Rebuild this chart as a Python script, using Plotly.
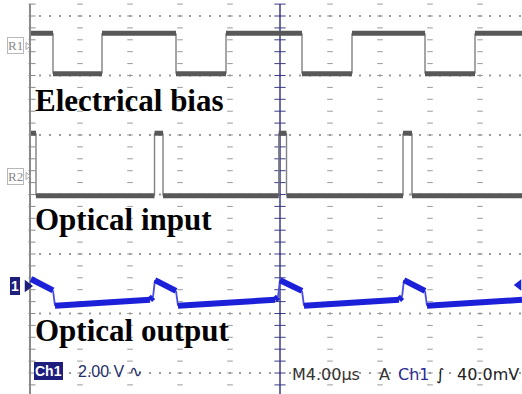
import numpy as np
import plotly.graph_objects as go

# ---------------- data (time in microseconds, 4 us/div; vertical in graticule divisions) -------------
trace_start_us = -19.92
trace_end_us = 19.36

# Electrical bias (R1): square wave, starts high
r1_edges_us = [-18.16, -14.24, -8.32, -4.32, 1.76, 5.76, 11.6, 15.6]
r1_high, r1_low = 2.71, 2.03

# Optical input (R2): short pulses
r2_pulse_start_us = [-20.2, -10.04, -0.10, 9.84]
r2_pulse_end_us = [-19.52, -9.36, 0.52, 10.56]
r2_base, r2_top = -0.02, 1.03

# Optical output (Ch1)
ch1_t_us = [-19.92, -18.16, -18.0, -10.4, -10.16, -10.0, -8.32, -8.16, -0.4, -0.16, 0.0,
            1.76, 1.92, 9.52, 9.76, 9.92, 11.6, 11.76, 19.36]
ch1_div = [-1.42, -1.61, -1.87, -1.77, -1.72, -1.44, -1.62, -1.87, -1.77, -1.72, -1.44,
           -1.62, -1.87, -1.77, -1.72, -1.44, -1.62, -1.87, -1.77]

grid_cols_us = [-16, -12, -8, -4, 4, 8, 12, 16]
grid_rows_div = [3, 2, 1, 0, -1, -2, -3]

# ---------------- helpers ----------------
def step_points(t0, t1, edges, lv_a, lv_b):
    xs, ys = [t0], [lv_a]
    cur, other = lv_a, lv_b
    for e in edges:
        xs += [e, e]
        ys += [cur, other]
        cur, other = other, cur
    xs.append(t1)
    ys.append(cur)
    return xs, ys

def split(xs, ys, thr_t=0.25, thr_y=0.1):
    fx, fy, ex, ey = [], [], [], []
    for i in range(len(xs) - 1):
        dx = xs[i + 1] - xs[i]
        dy = abs(ys[i + 1] - ys[i])
        if dx <= thr_t and dy > thr_y:
            ex += [xs[i], xs[i + 1], None]
            ey += [ys[i], ys[i + 1], None]
        else:
            fx += [xs[i], xs[i + 1], None]
            fy += [ys[i], ys[i + 1], None]
    return fx, fy, ex, ey

fig = go.Figure()

# ---------------- graticule ----------------
y_top, y_bot = 3.2, -3.4
col_y = np.round(np.arange(y_bot, y_top + 0.001, 0.2), 3)
gx, gy = [], []
for c in grid_cols_us:
    gx += [c] * len(col_y)
    gy += list(col_y)
fig.add_trace(go.Scatter(x=gx, y=gy, mode="markers", hoverinfo="skip",
                         marker=dict(symbol="line-ew", size=4, line=dict(width=1, color="#9a9a9a"))))
row_x = np.round(np.arange(-20, 20.01, 0.8), 3)
rx, ry = [], []
for r in grid_rows_div:
    rx += list(row_x)
    ry += [r] * len(row_x)
fig.add_trace(go.Scatter(x=rx, y=ry, mode="markers", hoverinfo="skip",
                         marker=dict(symbol="square", size=2, color="#9a9a9a", line=dict(width=0))))

# left edge with ticks
fig.add_trace(go.Scatter(x=[-20, -20], y=[y_top, -3.5], mode="lines", hoverinfo="skip",
                         line=dict(color="#8a8a8a", width=2)))
fig.add_trace(go.Scatter(x=[-19.84] * len(col_y), y=col_y, mode="markers", hoverinfo="skip",
                         marker=dict(symbol="line-ew", size=5, line=dict(width=1, color="#8a8a8a"))))
# centre line with ticks
fig.add_trace(go.Scatter(x=[0, 0], y=[y_top, -3.5], mode="lines", hoverinfo="skip",
                         line=dict(color="#3c3c86", width=1.5)))
fig.add_trace(go.Scatter(x=[0] * len(col_y), y=col_y, mode="markers", hoverinfo="skip",
                         marker=dict(symbol="line-ew", size=8, line=dict(width=1, color="#3c3c86"))))

# ---------------- traces ----------------
gray_thick = "#585858"
gray_thin = "#808080"

x1, y1 = step_points(trace_start_us, trace_end_us, r1_edges_us, r1_high, r1_low)
fx, fy, ex, ey = split(x1, y1)
fig.add_trace(go.Scatter(x=ex, y=ey, mode="lines", line=dict(color=gray_thin, width=1.4), hoverinfo="skip"))
fig.add_trace(go.Scatter(x=fx, y=fy, mode="lines", line=dict(color=gray_thick, width=5), hoverinfo="skip"))

r2_edges = []
for s, e in zip(r2_pulse_start_us, r2_pulse_end_us):
    r2_edges += [s, e]
start_high = r2_edges[0] < trace_start_us
edges_vis = [e for e in r2_edges if e > trace_start_us]
if start_high:
    x2, y2 = step_points(trace_start_us, trace_end_us, edges_vis, r2_top, r2_base)
else:
    x2, y2 = step_points(trace_start_us, trace_end_us, edges_vis, r2_base, r2_top)
fx, fy, ex, ey = split(x2, y2)
fig.add_trace(go.Scatter(x=ex, y=ey, mode="lines", line=dict(color=gray_thin, width=1.4), hoverinfo="skip"))
fig.add_trace(go.Scatter(x=fx, y=fy, mode="lines", line=dict(color=gray_thick, width=5), hoverinfo="skip"))

fx, fy, ex, ey = split(ch1_t_us, ch1_div)
fig.add_trace(go.Scatter(x=ex, y=ey, mode="lines", line=dict(color="#4a4ee0", width=1.8), hoverinfo="skip"))
fig.add_trace(go.Scatter(x=fx, y=fy, mode="lines", line=dict(color="#1c20d8", width=6), hoverinfo="skip"))

# markers: R1/R2 label arrows, ch1 ground marker arrow and trigger level marker
fig.add_trace(go.Scatter(x=[-20.2, -20.2], y=[2.496, 0.311], mode="markers", hoverinfo="skip",
                         marker=dict(symbol="triangle-right-open", size=6, color="#a8a8a8",
                                     line=dict(width=1, color="#a8a8a8"))))
fig.add_trace(go.Scatter(x=[-20.2], y=[-1.538], mode="markers", hoverinfo="skip",
                         marker=dict(symbol="triangle-right", size=11, color="#1e1e7c")))
fig.add_trace(go.Scatter(x=[19.1], y=[-1.52], mode="markers", hoverinfo="skip",
                         marker=dict(symbol="triangle-left", size=10, color="#1c20d8")))

# ---------------- text ----------------
ann = []
serif = "Liberation Serif"
for txt, yv in [("<b>Electrical bias</b>", 1.588), ("<b>Optical input</b>", -0.412), ("<b>Optical output</b>", -2.286)]:
    ann.append(dict(x=-19.6, y=yv, xref="x", yref="y", text=txt, showarrow=False, xanchor="left",
                    yanchor="middle", font=dict(family=serif, size=31, color="#000000"),
                    borderpad=0, borderwidth=0))
for txt, yv in [("R1", 2.496), ("R2", 0.311)]:
    ann.append(dict(x=-21.2, y=yv, xref="x", yref="y", text=txt, showarrow=False, xanchor="center",
                    yanchor="middle", font=dict(family=serif, size=13, color="#8a8a8a"),
                    bordercolor="#b8b8b8", borderwidth=1, borderpad=0))
ann.append(dict(x=-21.2, y=-1.538, xref="x", yref="y", text="<b>1</b>", showarrow=False,
                font=dict(family="Liberation Sans", size=14, color="white"),
                bgcolor="#1e1e7c", borderpad=1, borderwidth=0))
ann.append(dict(x=-18.56, y=-2.966, xref="x", yref="y", text="<b>Ch1</b>", showarrow=False,
                font=dict(family="Liberation Sans", size=14, color="white"),
                bgcolor="#1e1e7c", borderpad=1, borderwidth=0))
ann.append(dict(x=-16.16, y=-2.983, xref="x", yref="y", text="2.00 V ∿", showarrow=False, xanchor="left",
                font=dict(family="Liberation Sans", size=16, color="#23306a"), borderpad=0, borderwidth=0))
for txt, xv, col in [("M4.00µs", 0.96, "#333333"), ("A", 7.92, "#333333"), ("Ch1", 9.44, "#2a2a90"),
                     ("∫", 12.48, "#111111"), ("40.0mV", 14.16, "#222222")]:
    ann.append(dict(x=xv, y=-3.017, xref="x", yref="y", text=txt, showarrow=False, xanchor="left",
                    font=dict(family="DejaVu Sans", size=16, color=col), borderpad=0, borderwidth=0))

fig.update_layout(
    width=522, height=394, margin=dict(l=0, r=0, t=0, b=0),
    paper_bgcolor="white", plot_bgcolor="white", showlegend=False,
    xaxis=dict(range=[-22.4, 19.36], visible=False, fixedrange=True),
    yaxis=dict(range=[-3.3529, 3.2689], visible=False, fixedrange=True),
    annotations=ann,
)
fig.write_html("out.html", config={"displayModeBar": False},
               post_script="document.body.style.margin='0';document.body.style.overflow='hidden';")
